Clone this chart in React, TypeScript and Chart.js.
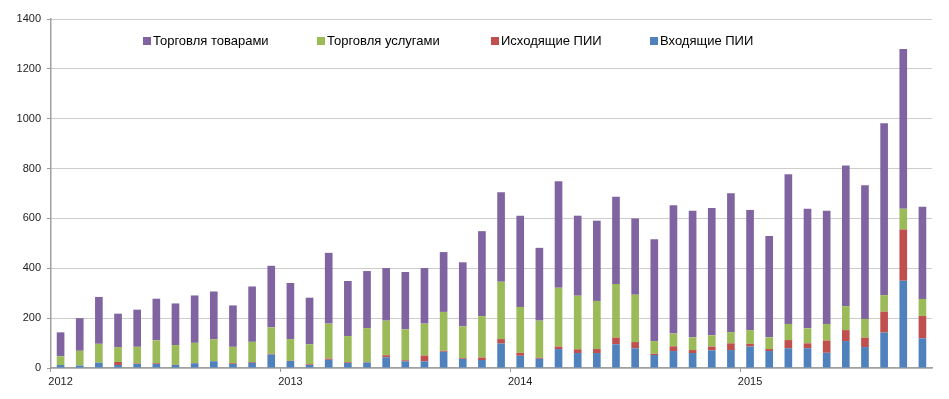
import React, { useEffect, useRef } from "react";
import { Chart, registerables } from "chart.js";

Chart.register(...registerables);

const categories = [
  "01.2012", "02.2012", "03.2012", "04.2012", "05.2012", "06.2012", "07.2012", "08.2012", "09.2012", "10.2012", "11.2012", "12.2012",
  "01.2013", "02.2013", "03.2013", "04.2013", "05.2013", "06.2013", "07.2013", "08.2013", "09.2013", "10.2013", "11.2013", "12.2013",
  "01.2014", "02.2014", "03.2014", "04.2014", "05.2014", "06.2014", "07.2014", "08.2014", "09.2014", "10.2014", "11.2014", "12.2014",
  "01.2015", "02.2015", "03.2015", "04.2015", "05.2015", "06.2015", "07.2015", "08.2015", "09.2015", "10.2015",
];

const yearLabels = ["2012", "2013", "2014", "2015"];
const yTicks = [0, 200, 400, 600, 800, 1000, 1200, 1400];

// Входящие ПИИ (bottom)
const inboundFDI = [
  12, 10, 21, 12, 16, 16, 12, 19, 27, 16, 21, 54,
  28, 12, 33, 20, 22, 43, 27, 27, 65, 36, 32, 98,
  49, 37, 76, 60, 60, 95, 79, 52, 68, 60, 71, 72,
  86, 68, 79, 79, 61, 108, 84, 142, 350, 119,
];
// Исходящие ПИИ
const outboundFDI = [
  0, 0, 0, 12, 2, 3, 1, 1, 1, 3, 3, 3,
  1, 3, 5, 3, 2, 8, 4, 23, 4, 3, 10, 18,
  12, 4, 10, 15, 16, 27, 25, 5, 19, 12, 15, 27,
  11, 8, 33, 20, 49, 44, 38, 84, 206, 90,
];
// Торговля услугами
const servicesTrade = [
  35, 59, 76, 60, 67, 92, 79, 81, 87, 66, 81, 106,
  87, 80, 140, 105, 136, 139, 124, 128, 156, 128, 166, 230,
  184, 149, 236, 215, 193, 215, 190, 51, 51, 51, 45, 45,
  55, 47, 65, 60, 67, 96, 75, 66, 83, 68,
];
// Торговля товарами
const goodsTrade = [
  96, 131, 188, 134, 149, 167, 167, 190, 192, 166, 222, 247,
  225, 187, 284, 221, 229, 211, 230, 223, 240, 257, 341, 359,
  366, 292, 427, 321, 322, 350, 306, 408, 515, 508, 511, 557,
  482, 407, 600, 480, 454, 564, 536, 690, 641, 370,
];

const seriesLabels = ["Входящие ПИИ", "Исходящие ПИИ", "Торговля услугами", "Торговля товарами"];
const seriesColors = ["#4F81BD", "#C0504D", "#9BBB59", "#8064A2"];

// legend order: goods, services, outbound, inbound
const legendOrder = [3, 2, 1, 0];
const legendX = [143, 317, 491, 650];

const FONT = '"Liberation Sans", Arial, Helvetica, sans-serif';

const insideLegend = {
  id: "insideLegend",
  afterDraw(chart: any) {
    const ctx = chart.ctx;
    ctx.save();
    ctx.font = `13px ${FONT}`;
    ctx.textBaseline = "middle";
    ctx.textAlign = "left";
    legendOrder.forEach((dsIndex, i) => {
      const ds = chart.data.datasets[dsIndex];
      const x = legendX[i];
      ctx.fillStyle = ds.backgroundColor;
      ctx.fillRect(x, 37, 8, 8);
      ctx.fillStyle = "#000";
      ctx.fillText(ds.label, x + 10, 41.5);
    });
    ctx.restore();
  },
};

export default function App() {
  const canvasRef = useRef<HTMLCanvasElement | null>(null);

  useEffect(() => {
    document.body.style.margin = "0";
    const canvas = canvasRef.current;
    if (!canvas) return;
    const values = [inboundFDI, outboundFDI, servicesTrade, goodsTrade];
    const chart = new Chart(canvas, {
      type: "bar",
      data: {
        labels: categories,
        datasets: values.map((v, i) => ({
          label: seriesLabels[i],
          data: v,
          backgroundColor: seriesColors[i],
          borderWidth: 0,
          categoryPercentage: 1,
          barPercentage: 0.4,
        })),
      },
      options: {
        responsive: false,
        animation: false,
        devicePixelRatio: 1,
        layout: { padding: { top: 19, right: 17, left: 0, bottom: 0 } },
        plugins: {
          legend: { display: false },
          tooltip: { enabled: false },
        },
        scales: {
          x: {
            stacked: true,
            offset: true,
            afterFit: (s: any) => {
              s.height = 31;
            },
            grid: {
              offset: true,
              drawOnChartArea: false,
              drawTicks: true,
              tickLength: 4,
              color: (c: any) => (c.index % 12 === 0 ? "#999" : "rgba(0,0,0,0)"),
            },
            border: { display: true, color: "#a0a0a0", width: 1.5 },
            ticks: {
              autoSkip: false,
              maxRotation: 0,
              minRotation: 0,
              padding: 3,
              color: "#222",
              font: { family: FONT, size: 11 },
              callback: (_v: any, idx: number) => (idx % 12 === 0 ? yearLabels[idx / 12] : ""),
            },
          },
          y: {
            stacked: true,
            min: 0,
            max: 1400,
            afterFit: (s: any) => {
              s.width = 51;
            },
            afterBuildTicks: (s: any) => {
              s.ticks = yTicks.map((v) => ({ value: v }));
            },
            grid: {
              color: "#9a9a9a",
              lineWidth: 1,
              tickLength: 4,
            },
            border: { display: true, color: "#a0a0a0", width: 1.5, dash: [1, 1] },
            ticks: {
              padding: 6,
              color: "#222",
              font: { family: FONT, size: 11 },
              callback: (v: any) => String(v),
            },
          },
        },
      },
      plugins: [insideLegend],
    });
    return () => chart.destroy();
  }, []);

  return (
    <div style={{ position: "absolute", left: 0, top: 0, width: 949, height: 399, background: "#fff" }}>
      <canvas ref={canvasRef} width={949} height={399} style={{ width: 949, height: 399 }} />
    </div>
  );
}
